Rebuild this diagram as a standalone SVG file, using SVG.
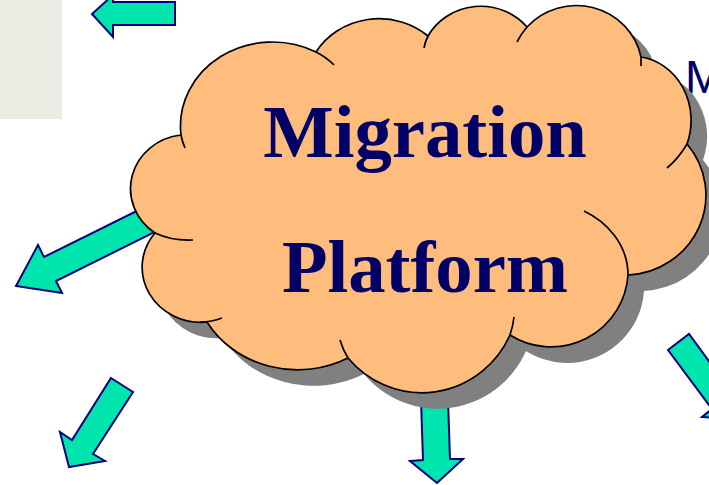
<svg xmlns="http://www.w3.org/2000/svg" width="709" height="485" viewBox="0 0 709 485">
<style>
.arrow{fill:#00e5ad;stroke:#000080;stroke-width:2;stroke-linejoin:miter}
.label{font-family:"Liberation Serif",serif;font-weight:bold;font-size:74.7px;fill:#000066;text-anchor:middle}
.tail{fill:none;stroke:#000;stroke-width:1.7;stroke-linecap:butt}
</style>
<defs>
<path id="cloud" d="M181,135 A92,84 0 0 1 316,52 A73,67 0 0 1 428,36 A60,57 0 0 1 527,27 A66,64 0 0 1 641,57 A58,64 0 0 1 687,144 A82,80 0 0 1 628,275 A77,77 0 0 1 510,335 A97,99 0 0 1 348,358 A104,94 0 0 1 207,322 A59,55 0 0 1 155,233 A57,54 0 0 1 181,135 Z"/>
</defs>
<rect id="panel" x="0" y="0" width="62" height="119" fill="#ecece4"/>
<g id="connectors">
<path class="arrow" d="M175,2 L113,2 L113,-5 L92,14 L113,37 L113,25 L175,25 Z"/>
<path class="arrow" d="M175,192 L44,257 L38,245 L16,286 L62,293 L56,281 L195,212 Z"/>
<path class="arrow" d="M111,378 L133,392 L93,454 L105,461 L69,467 L60,432 L72,440 Z"/>
<path class="arrow" d="M421,400 L448,400 L450,459 L463,459 L437,483 L410,461 L423,460 Z"/>
<path class="arrow" d="M668,350 L689,334 L730,390 L740,420 L702,417 L712,409 Z"/>
</g>
<text id="side-label" x="685" y="93" font-family="Liberation Sans, sans-serif" font-size="46" fill="#000066">M</text>
<g id="cloud-node">
<use href="#cloud" x="16" y="16" fill="#808080"/>
<use href="#cloud" fill="#ffbd7d" stroke="#000" stroke-width="1.7"/>
<path class="tail" d="M181,135 Q182,141 185,148"/>
<path class="tail" d="M316,52 Q326,57 334,65"/>
<path class="tail" d="M428,36 Q425,42 424,48"/>
<path class="tail" d="M527,27 Q521,34 517,42"/>
<path class="tail" d="M641,57 L641,66"/>
<path class="tail" d="M687,144 Q679,158 667,168"/>
<path class="tail" d="M584,211 C605,221 628,243 628,275"/>
<path class="tail" d="M510,335 Q513,326 514,317"/>
<path class="tail" d="M348,358 Q343,350 340,340"/>
<path class="tail" d="M200,322 Q212,322 222,318"/>
<path class="tail" d="M155,233 Q172,241 193,240"/>
<text class="label" x="425" y="157">Migration</text>
<text class="label" x="425" y="292">Platform</text>
</g>
</svg>
